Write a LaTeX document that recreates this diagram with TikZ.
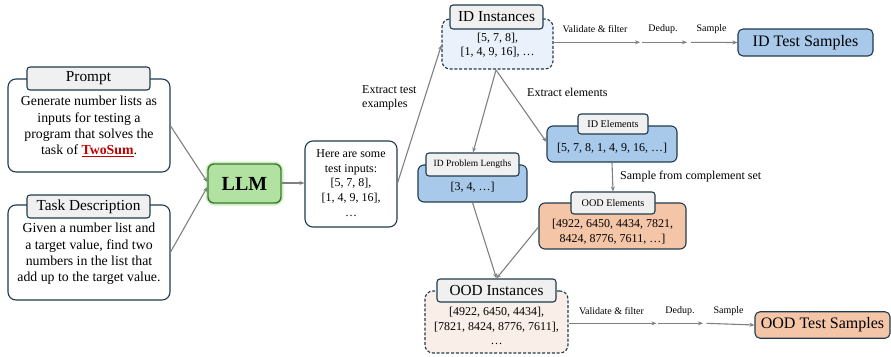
\documentclass[tikz,border=0pt]{standalone}
\usepackage{fontspec}
\setmainfont{Liberation Serif}
\usepackage{xcolor}
\usetikzlibrary{arrows.meta}
\definecolor{bord}{HTML}{1F3B4D}
\definecolor{tabfill}{HTML}{F0F0F0}
\definecolor{bluefill}{HTML}{A8C9EA}
\definecolor{lightblue}{HTML}{EAF1FA}
\definecolor{peach}{HTML}{F5C5A8}
\definecolor{lightpeach}{HTML}{FAEEE8}
\definecolor{llmfill}{HTML}{B2E2A2}
\definecolor{llmbord}{HTML}{3C7A32}
\definecolor{glow}{HTML}{CDEFC0}
\definecolor{arr}{HTML}{808080}
\definecolor{tsred}{HTML}{C00000}
\tikzset{
  box/.style={draw=bord, line width=1.1pt, rounded corners=8pt, inner sep=0pt},
  dbox/.style={box, dash pattern=on 3pt off 1.8pt},
  tabbox/.style={draw=bord, line width=1.1pt, fill=tabfill, rounded corners=3pt, align=center, inner sep=0pt},
  txt/.style={align=center, inner sep=0pt},
  conn/.style={draw=arr, line width=1.1pt, -{Stealth[length=5pt,width=4pt]}},
  lbl/.style={font=\fontsize{10}{12}\selectfont, inner sep=0pt},
  big/.style={font=\fontsize{15.3}{17}\selectfont},
  small/.style={font=\fontsize{10.2}{12}\selectfont},
}
\begin{document}
\begin{tikzpicture}[x=1pt,y=-1pt]
\useasboundingbox (0,0) rectangle (891,356);
% Prompt
\node[box, fill=white, minimum width=162pt, minimum height=93pt] (prompt) at (89,125.5) {};
\node[txt, font=\fontsize{13.8}{16.3}\selectfont] (promptT) at (89,126.5)
  {Generate number lists as\\inputs for testing a\\program that solves the\\task of \textcolor{tsred}{\textbf{\underline{TwoSum}}}.};
\node[tabbox, big, minimum width=123pt, minimum height=23pt] (ptab) at (88.5,78.5) {Prompt};
% Task description
\node[box, fill=white, minimum width=162pt, minimum height=95pt] (task) at (89,252.5) {};
\node[txt, font=\fontsize{13.8}{16.3}\selectfont] (taskT) at (89,254)
  {Given a number list and\\a target value, find two\\numbers in the list that\\add up to the target value.};
\node[tabbox, big, minimum width=123pt, minimum height=23pt] (ttab) at (88.5,206.5) {Task Description};
% LLM
\node[draw=glow, line width=5pt, rounded corners=7pt, minimum width=73pt, minimum height=39pt] (llmglow) at (244.5,183.5) {};
\node[draw=llmbord, fill=llmfill, line width=1.4pt, rounded corners=6pt, minimum width=73pt, minimum height=39pt,
  font=\fontsize{20}{22}\selectfont\bfseries] (llm) at (244.5,183.5) {LLM};
% output
\node[box, fill=white, minimum width=92pt, minimum height=86pt] (out) at (351,184) {};
\node[txt, font=\fontsize{12}{14.8}\selectfont] (outT) at (351,183)
  {Here are some\\test inputs:\\{[}5, 7, 8{]},\\{[}1, 4, 9, 16{]},\\\ldots};
% ID instances
\node[dbox, fill=lightblue, minimum width=111pt, minimum height=50pt] (idinst) at (497.5,44) {};
\node[txt, font=\fontsize{12}{13.5}\selectfont] (idinstT) at (497.5,45.5)
  {{[}5, 7, 8{]},\\{[}1, 4, 9, 16{]}, \ldots};
\node[tabbox, big, minimum width=93pt, minimum height=24pt] (idtab) at (496.5,17) {ID Instances};
% ID test samples
\node[box, fill=bluefill, rounded corners=5pt, minimum width=135pt, minimum height=27pt, font=\fontsize{16}{18}\selectfont] (idtest) at (805.5,42.5) {ID Test Samples};
% ID elements
\node[box, fill=bluefill, rounded corners=6pt, minimum width=130pt, minimum height=36pt] (idel) at (612,144) {};
\node[txt, font=\fontsize{12}{14}\selectfont] (idelT) at (612,148) {{[}5, 7, 8, 1, 4, 9, 16, \ldots{]}};
\node[tabbox, small, minimum width=70pt, minimum height=20pt] (ideltab) at (613,124) {ID Elements};
% ID problem lengths
\node[box, fill=bluefill, rounded corners=6pt, minimum width=109pt, minimum height=37pt] (idpl) at (472.5,183.5) {};
\node[txt, font=\fontsize{12}{14}\selectfont] (idplT) at (472.5,187) {{[}3, 4, \ldots{]}};
\node[tabbox, font=\fontsize{9.5}{11}\selectfont, minimum width=93pt, minimum height=23pt] (idpltab) at (472.5,164.5) {ID Problem Lengths};
% OOD elements
\node[box, fill=peach, rounded corners=6pt, minimum width=147pt, minimum height=46pt] (oodel) at (612.5,226) {};
\node[txt, font=\fontsize{12}{15}\selectfont] (oodelT) at (612.5,232)
  {{[}4922, 6450, 4434, 7821,\\8424, 8776, 7611, \ldots{]}};
\node[tabbox, small, minimum width=84pt, minimum height=22pt] (oodeltab) at (613,203) {OOD Elements};
% OOD instances
\node[dbox, fill=lightpeach, minimum width=143pt, minimum height=62pt] (oodinst) at (496.5,322) {};
\node[txt, font=\fontsize{12}{14.8}\selectfont] (oodinstT) at (496.5,326)
  {{[}4922, 6450, 4434{]},\\{[}7821, 8424, 8776, 7611{]},\\\ldots};
\node[tabbox, big, minimum width=119pt, minimum height=23pt] (oodtab) at (496.5,290.5) {OOD Instances};
% OOD test samples
\node[box, fill=peach, rounded corners=5pt, minimum width=135pt, minimum height=26.5pt, font=\fontsize{16}{18}\selectfont] (oodtest) at (822.5,325) {OOD Test Samples};

% coordinates for arrow chains
\coordinate (a1) at (640,42.3);
\coordinate (a1s) at (642,42.3);
\coordinate (a2) at (687,42.3);
\coordinate (a2s) at (691,42.3);
\coordinate (b1) at (656.5,323.3);
\coordinate (b1s) at (658,323.3);
\coordinate (b2) at (703,323.3);
\coordinate (b2s) at (706.5,323.3);
\coordinate (split) at (496,70);

% connectors
\draw[conn] (prompt.east |- 0,126) -- (llm.west |- 0,182);
\draw[conn] (task.east |- 0,252) -- (llm.west |- 0,187);
\draw[conn] (llm.east |- 0,183) -- (out.west |- 0,183);
\draw[conn] (out.east |- 0,183) -- (idinst.west |- 0,45);
\draw[conn] (idinst.east |- 0,42.3) -- (a1);
\draw[conn] (a1s) -- (a2);
\draw[conn] (a2s) -- (idtest.west);
\draw[conn] (split) -- (idpltab.north -| 473,0);
\draw[conn] (split) -- (idel.west |- 0,142);
\draw[conn] (idel.south) -- (oodeltab.north);
\draw[conn] (idpl.south) -- (oodtab.north);
\draw[conn] (oodel.west |- 0,227) -- (oodtab.north);
\draw[conn] (oodinst.east |- 0,323.3) -- (b1);
\draw[conn] (b1s) -- (b2);
\draw[conn] (b2s) -- (oodtest.west);

% labels
\node[lbl, anchor=west, align=left, font=\fontsize{12}{14}\selectfont] (lx) at (362,98) {Extract test\\examples};
\node[lbl, anchor=west, font=\fontsize{12}{14}\selectfont] (le) at (527,92) {Extract elements};
\node[lbl, anchor=west, font=\fontsize{12}{14}\selectfont] (ls) at (620,177) {Sample from complement set};
\node[lbl] (v1) at (595,29.5) {Validate \& filter};
\node[lbl] (d1) at (663,29.5) {Dedup.};
\node[lbl] (s1) at (711.5,29.5) {Sample};
\node[lbl] (v2) at (611.5,311) {Validate \& filter};
\node[lbl] (d2) at (680,311) {Dedup.};
\node[lbl] (s2) at (728.5,311) {Sample};
\end{tikzpicture}
\end{document}
